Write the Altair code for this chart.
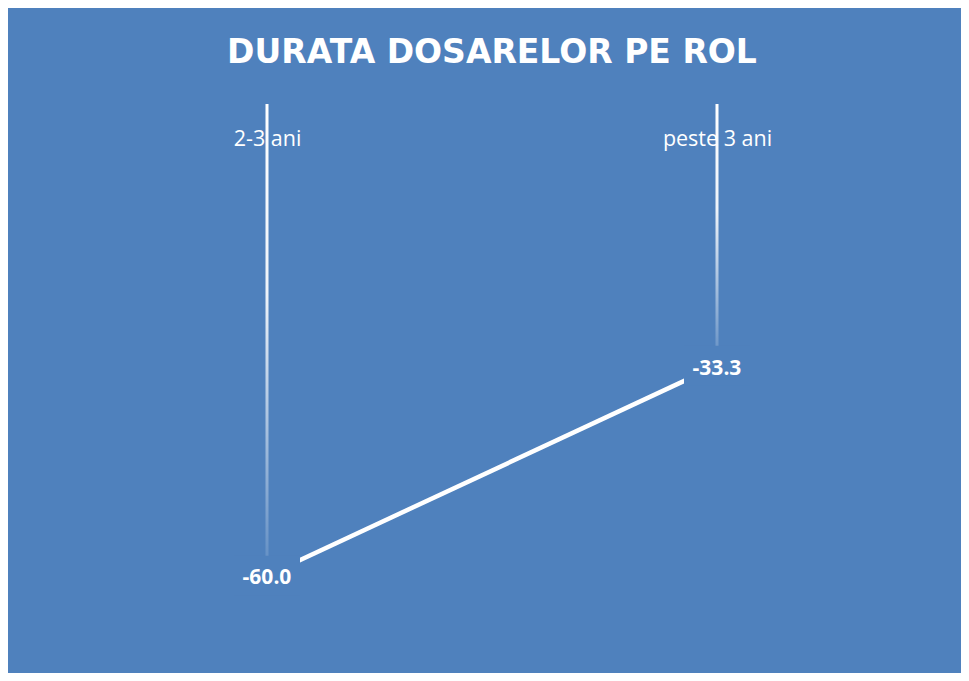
import altair as alt
import pandas as pd

categories = ["2-3 ani", "peste 3 ani"]
values = [-60.0, -33.3]
value_labels = ["-60.0", "-33.3"]
zeros = [0, 0]
title_text = "DURATA DOSARELOR PE ROL"

BG = "#4F81BD"

df = pd.DataFrame({"cat": categories, "val": values, "lab": value_labels, "zero": zeros})

x = alt.X(
    "cat:N",
    sort=categories,
    scale=alt.Scale(type="point", padding=0.5),
    axis=alt.Axis(
        orient="top", title=None, domain=False, ticks=False, tickSize=0, grid=False,
        labelPadding=-41, labelBaseline="alphabetic", labelColor="white",
        labelFont="Open Sans", labelFontSize=21.5, labelAngle=0,
    ),
)
y = alt.Y("val:Q", scale=alt.Scale(domain=[-70, 0], nice=False, zero=False), axis=None)

base = alt.Chart(df)

drops = base.mark_bar(
    size=3,
    fill=alt.Gradient(
        gradient="linear",
        stops=[
            alt.GradientStop(color="rgba(255,255,255,1)", offset=0),
            alt.GradientStop(color="rgba(255,255,255,0.9)", offset=0.4),
            alt.GradientStop(color="rgba(255,255,255,0.08)", offset=1),
        ],
        x1=0, x2=0, y1=0, y2=1,
    ),
).encode(x=x, y=y, y2=alt.Y2("zero:Q"))

line = base.mark_line(color="white", strokeWidth=4.5).encode(x=x, y=y)

boxes = base.mark_point(
    shape="M-1,-0.6L1,-0.6L1,0.6L-1,0.6Z",
    filled=True, fill=BG, opacity=1, strokeWidth=0, size=4356,
).encode(x=x, y=y)

texts = base.mark_text(
    color="white", fontWeight="bold", fontSize=21, font="Open Sans", dy=3,
).encode(x=x, y=y, text="lab:N")

chart = alt.layer(drops, line, boxes, texts).properties(
    width=900,
    height=550,
    autosize="none",
    padding={"left": 34, "top": 96, "right": 19, "bottom": 19},
    background=BG,
    title=alt.TitleParams(
        title_text, color="white", font="DejaVu Sans", fontSize=33, fontWeight="bold",
        anchor="middle", baseline="alphabetic", offset=8,
    ),
).configure_view(stroke=None)

chart.save("out.html", embed_options={"renderer": "svg", "actions": False})
